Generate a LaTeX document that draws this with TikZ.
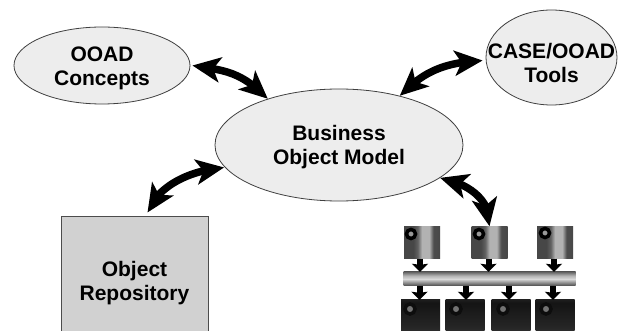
\documentclass[tikz,border=0pt]{standalone}
\usepackage{fontspec}
\setmainfont{Liberation Sans}
\usetikzlibrary{shapes.geometric,arrows.meta,bending}
\definecolor{ellfill}{gray}{0.93}
\definecolor{boxfill}{gray}{0.82}
\newcommand{\liftline}[1]{\rule{0pt}{#1pt}}
\pgfdeclarehorizontalshading{upperA}{100bp}{
  color(0bp)=(black!72); color(38bp)=(black!72); color(44bp)=(black!62); color(50bp)=(black!30);
  color(60bp)=(black!30); color(66bp)=(black!70); color(88bp)=(black!75); color(100bp)=(black!50)}
\pgfdeclareverticalshading{pipeS}{100bp}{
  color(0bp)=(black!82); color(25bp)=(black!72); color(50bp)=(black!15);
  color(62bp)=(black!30); color(80bp)=(black!72); color(100bp)=(black!85)}
\pgfdeclareverticalshading{lowerS}{100bp}{
  color(0bp)=(black!70); color(30bp)=(black!85); color(70bp)=(black!92); color(100bp)=(black!72)}
\tikzset{
  x=1pt,y=-1pt,
  labelfont/.style={font=\fontsize{21}{24}\selectfont\bfseries,align=center,text=black},
  bubble/.style={ellipse,draw=black!75,line width=0.8pt,fill=ellfill,inner xsep=-40pt,inner ysep=-20pt,labelfont},
  repo/.style={rectangle,draw=black!70,line width=1pt,fill=boxfill,inner sep=0pt,minimum width=147pt,minimum height=132pt,labelfont},
  bigarrow/.style={line width=7.5pt,{Stealth[length=28pt,width=25pt,inset=7pt,flex=1]}-{Stealth[length=28pt,width=25pt,inset=7pt,flex=1]}},
  smallarrow/.style={line width=6pt,-{Stealth[length=8pt,width=16pt,inset=1pt]}},
  upper/.style={rectangle,inner sep=0pt,minimum width=36pt,minimum height=32pt,shading=upperA},
  lower/.style={rectangle,inner sep=0pt,minimum width=39pt,minimum height=31pt,shading=lowerS},
  pipe/.style={rectangle,inner sep=0pt,minimum width=172pt,minimum height=14pt,shading=pipeS},
  gear/.style={circle,draw=black,line width=3.5pt,fill=black!40,inner sep=0pt,minimum size=9pt},
  lowgear/.style={circle,draw=black!95,line width=3.5pt,fill=black!55,inner sep=0pt,minimum size=10pt},
}
\begin{document}
\begin{tikzpicture}
\useasboundingbox (0,0) rectangle (622,331);
\clip (0,0) rectangle (622,331);
\fill[white] (0,0) rectangle (622,331);
\node[bubble,minimum width=176pt,minimum height=77pt] (ooad) at (102,65.5) {\liftline{21}OOAD\\Concepts};
\node[bubble,minimum width=131pt,minimum height=95pt] (case) at (551.5,57.5) {\liftline{27}CASE/OOAD\\Tools};
\node[bubble,minimum width=248pt,minimum height=112pt] (bom) at (339,145) {\liftline{19}Business\\Object Model};
\node[repo] (repo) at (134.5,283) {Object\\Repository};
% equipment row
\node[upper] (t1) at (422,242.5) {};
\node[upper] (t2) at (489.5,242.5) {};
\node[upper] (t3) at (555,242.5) {};
\node[pipe] (bar) at (489.5,279) {};
\node[lower] (b1) at (420.5,315.5) {};
\node[lower] (b2) at (465,315.5) {};
\node[lower] (b3) at (511,315.5) {};
\node[lower] (b4) at (555,315.5) {};
\node[gear] at (411,234) {};
\node[gear] at (479,234) {};
\node[gear] at (545,233) {};
\node[lowgear] at (410,309) {};
\node[lowgear] at (456,309) {};
\node[lowgear] at (503,309) {};
\node[lowgear] at (546,309) {};
\draw[smallarrow] (t1.south) ++(-2,0) coordinate (s1) -- (s1 |- bar.north);
\draw[smallarrow] (t2.south) ++(-1,0) coordinate (s2) -- (s2 |- bar.north);
\draw[smallarrow] (t3.south) ++(-1,0) coordinate (s3) -- (s3 |- bar.north);
\draw[smallarrow] (b1.north |- bar.south) ++(-1,0) coordinate (r1) -- (r1 |- b1.north);
\draw[smallarrow] (b2.north |- bar.south) ++(1,0) coordinate (r2) -- (r2 |- b2.north);
\draw[smallarrow] (b3.north |- bar.south) ++(-2,0) coordinate (r3) -- (r3 |- b3.north);
\draw[smallarrow] (b4.north |- bar.south) ++(-2,0) coordinate (r4) -- (r4 |- b4.north);
% large curved double arrows
\draw[bigarrow] ([shift={(2,0)}]ooad.east) .. controls +(32,5) and +(-28,-28) .. (bom.147);
\draw[bigarrow] ([shift={(-3,3)}]case.west) .. controls +(-42,2) and +(22,-22) .. (bom.39);
\draw[bigarrow] ([shift={(1,2)}]bom.190) .. controls +(-42,4) and +(8,-22) .. ([shift={(13,-4)}]repo.north);
\draw[bigarrow] (bom.-18) .. controls +(26,5) and +(2,-28) .. (t2.north);
\end{tikzpicture}
\end{document}
